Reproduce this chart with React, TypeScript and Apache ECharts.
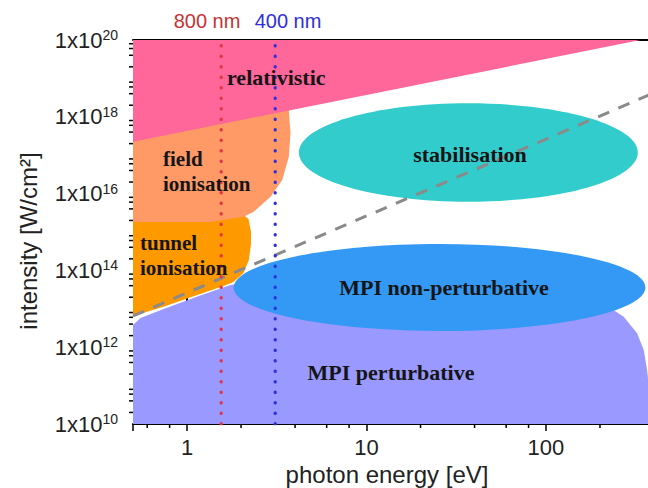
import React, { useEffect, useRef } from "react";
import * as echarts from "echarts";

// ---- data (photon energy in eV, intensity in W/cm^2) ----
const xRange = [0.5, 400];
const yRange = [1e10, 1e20];
const xMinorTicks = [0.6, 0.8, 2, 4, 6, 8, 20, 40, 60, 80, 200];
const yDecades = [10, 11, 12, 13, 14, 15, 16, 17, 18, 19];
const yMinorMultipliers = [2, 4, 6, 8];

const relativistic = [
  [0.5, 1e20],
  [336, 1e20],
  [0.5, 2.24e17],
];
const fieldIonisation = [
  [0.5, 1.82e15],
  [1.35, 1.82e15],
  [2.064, 2.5e15],
  [2.356, 3.38e15],
  [2.92, 8.3e15],
  [3.392, 2.26e16],
  [3.691, 9.1e16],
  [3.772, 3.72e17],
  [3.691, 1.5e18],
  [3.63, 2.74e18],
  [0.5, 4.53e17],
];
const tunnelIonisation = [
  [0.5, 2.77e15],
  [2.064, 2.77e15],
  [2.2, 2.18e15],
  [2.273, 1.0e15],
  [2.273, 4.87e14],
  [2.21, 1.87e14],
  [2.064, 8.56e13],
  [1.816, 4.99e13],
  [1.597, 3.93e13],
  [1.14, 2.29e13],
  [0.74, 1.13e13],
  [0.5, 6.5e12],
];
const mpiPerturbative = [
  [0.5, 1e10],
  [0.5, 3.8e12],
  [0.551, 5.76e12],
  [0.74, 9.9e12],
  [1.144, 2.09e13],
  [1.747, 4.17e13],
  [4.29, 7.1e13],
  [25.8, 7.1e13],
  [120.4, 3.1e13],
  [220, 1.18e13],
  [271, 6.2e12],
  [322, 2.3e12],
  [350.6, 8.5e11],
  [366, 2.55e11],
  [382, 4.2e10],
  [390, 1e10],
];
// ellipses: [Emin, Emax, Imin, Imax]
const stabilisationBox = [4.2, 325, 6.15e15, 2.25e18];
const mpiNonPerturbativeBox = [1.82, 358, 2.64e12, 4.87e14];
const thresholdLine = [
  [0.5, 6.5e12],
  [400, 4.2e18],
];
const laserEnergies = [1.55, 3.1];
const laserLabels = ["800 nm", "400 nm"];

const COLORS = {
  relativistic: "#FF6699",
  field: "#FF9966",
  tunnel: "#FF9900",
  mpiPert: "#9999FF",
  mpiNonPert: "#3399F5",
  stabilisation: "#33CCCC",
  threshold: "#8A8A8A",
  lasers: ["#E03545", "#2E2EE0"],
  laserText: ["#C83232", "#2E2EDC"],
};

const SANS = '"Liberation Sans", Arial, sans-serif';
const SERIF = '"Liberation Serif", "Times New Roman", serif';
const lg = Math.log10;

function polySeries(pts: number[][], color: string) {
  return {
    type: "custom",
    clip: true,
    silent: true,
    data: [[lg(pts[0][0]), lg(pts[0][1])]],
    renderItem: (_p: any, api: any) => ({
      type: "polygon",
      shape: { points: pts.map((p) => api.coord([lg(p[0]), lg(p[1])])) },
      style: { fill: color },
    }),
  };
}

function ellipseSeries(box: number[], color: string) {
  return {
    type: "custom",
    clip: true,
    silent: true,
    data: [[lg(box[0]), lg(box[2])]],
    renderItem: (_p: any, api: any) => {
      const a = api.coord([lg(box[0]), lg(box[3])]);
      const b = api.coord([lg(box[1]), lg(box[2])]);
      return {
        type: "ellipse",
        shape: {
          cx: (a[0] + b[0]) / 2,
          cy: (a[1] + b[1]) / 2,
          rx: Math.abs(b[0] - a[0]) / 2,
          ry: Math.abs(b[1] - a[1]) / 2,
        },
        style: { fill: color },
      };
    },
  };
}

export default function App() {
  const ref = useRef<HTMLDivElement>(null);
  useEffect(() => {
    if (!ref.current) return;
    const chart = echarts.init(ref.current, null, { renderer: "svg" });
    const xMin = lg(xRange[0]);
    const xMax = lg(xRange[1]);
    const yMin = lg(yRange[0]);
    const yMax = lg(yRange[1]);

    const regionText = (text: string, x: number, y: number, align = "left", size = 22) => ({
      type: "text",
      z: 100,
      x,
      y,
      style: {
        text,
        fill: "#151515",
        font: `bold ${size}px ${SERIF}`,
        lineHeight: 25,
        align,
        verticalAlign: "middle",
      },
    });

    const option: any = {
      animation: false,
      backgroundColor: "#ffffff",
      grid: { left: 133, top: 40, right: 6, bottom: 64 },
      xAxis: [
        {
          type: "value",
          min: xMin,
          max: xMax,
          minInterval: 1,
          maxInterval: 1,
          splitLine: { show: false },
          axisLine: { show: true, lineStyle: { color: "#000", width: 2 } },
          axisTick: { show: true, length: 7, lineStyle: { color: "#000", width: 1.5 } },
          axisLabel: {
            margin: 12,
            color: "#222",
            fontSize: 22,
            fontFamily: SANS,
            formatter: (v: number) => {
              const n = Math.round(v);
              if (Math.abs(v - n) > 1e-6) return "";
              return String(Math.round(Math.pow(10, n)));
            },
          },
        },
        {
          type: "value",
          position: "top",
          min: xMin,
          max: xMax,
          splitLine: { show: false },
          axisLine: { show: true, lineStyle: { color: "#000", width: 2 } },
          axisTick: { show: false },
          axisLabel: { show: false },
        },
      ],
      yAxis: {
        type: "value",
        min: yMin,
        max: yMax,
        interval: 1,
        splitLine: { show: false },
        axisLine: { show: true, lineStyle: { color: "#000", width: 2 } },
        axisTick: { show: true, length: 7, lineStyle: { color: "#000", width: 1.5 } },
        axisLabel: {
          margin: 15,
          color: "#222",
          formatter: (v: number) => {
            const n = Math.round(v);
            if (Math.abs(v - n) > 1e-6 || n % 2 !== 0) return "";
            return `{b|1x10}{s|${n}}`;
          },
          rich: {
            b: { fontSize: 22, fontFamily: SANS, color: "#222", lineHeight: 24 },
            s: { fontSize: 14, fontFamily: SANS, color: "#222", lineHeight: 6, verticalAlign: "top" },
          },
        },
      },
      series: [
        polySeries(tunnelIonisation, COLORS.tunnel),
        polySeries(fieldIonisation, COLORS.field),
        polySeries(relativistic, COLORS.relativistic),
        polySeries(mpiPerturbative, COLORS.mpiPert),
        ellipseSeries(mpiNonPerturbativeBox, COLORS.mpiNonPert),
        ellipseSeries(stabilisationBox, COLORS.stabilisation),
        {
          type: "line",
          silent: true,
          symbol: "none",
          clip: true,
          data: thresholdLine.map((p) => [lg(p[0]), lg(p[1])]),
          lineStyle: { color: COLORS.threshold, width: 3, type: [12, 10] },
        },
        ...laserEnergies.map((e, i) => ({
          type: "line",
          silent: true,
          symbol: "none",
          data: [
            [lg(e), yMin],
            [lg(e), yMax],
          ],
          lineStyle: { color: COLORS.lasers[i], width: 3.2, type: [0.5, 10], cap: "round" },
        })),
        {
          type: "custom",
          clip: false,
          silent: true,
          z: 10,
          data: xMinorTicks.map((v) => [lg(v), yMin]),
          renderItem: (_p: any, api: any) => {
            const p = api.coord([api.value(0), yMin]);
            return {
              type: "line",
              shape: { x1: p[0], y1: p[1], x2: p[0], y2: p[1] + 4 },
              style: { stroke: "#000", lineWidth: 1.5 },
            };
          },
        },
        {
          type: "custom",
          clip: false,
          silent: true,
          z: 10,
          data: yDecades.flatMap((d) => yMinorMultipliers.map((m) => [xMin, d + lg(m)])),
          renderItem: (_p: any, api: any) => {
            const p = api.coord([xMin, api.value(1)]);
            return {
              type: "line",
              shape: { x1: p[0], y1: p[1], x2: p[0] - 4, y2: p[1] },
              style: { stroke: "#000", lineWidth: 1.5 },
            };
          },
        },
      ],
      graphic: [
        {
          type: "text",
          z: 100,
          x: 207,
          y: 21,
          style: { text: laserLabels[0], fill: COLORS.laserText[0], font: `20px ${SANS}`, align: "center", verticalAlign: "middle" },
        },
        {
          type: "text",
          z: 100,
          x: 288,
          y: 21,
          style: { text: laserLabels[1], fill: COLORS.laserText[1], font: `20px ${SANS}`, align: "center", verticalAlign: "middle" },
        },
        {
          type: "text",
          z: 100,
          x: 28,
          y: 241,
          rotation: Math.PI / 2,
          style: { text: "intensity [W/cm²]", fill: "#222", font: `24px ${SANS}`, align: "center", verticalAlign: "middle" },
        },
        {
          type: "text",
          z: 100,
          x: 387,
          y: 474,
          style: { text: "photon energy [eV]", fill: "#222", font: `24px ${SANS}`, align: "center", verticalAlign: "middle" },
        },
        regionText("relativistic", 227, 77),
        regionText("field\nionisation", 163, 171, "left", 21),
        regionText("tunnel\nionisation", 140, 255, "left", 21),
        regionText("stabilisation", 470, 154, "center"),
        regionText("MPI non-perturbative", 444, 287, "center"),
        regionText("MPI perturbative", 391, 372, "center"),
      ],
    };
    chart.setOption(option);
    return () => chart.dispose();
  }, []);
  return (
    <div
      style={{ position: "fixed", left: 0, top: 0, width: 648, height: 488, overflow: "hidden", background: "#fff" }}
    >
      <div ref={ref} style={{ width: 660, height: 488 }} />
    </div>
  );
}
